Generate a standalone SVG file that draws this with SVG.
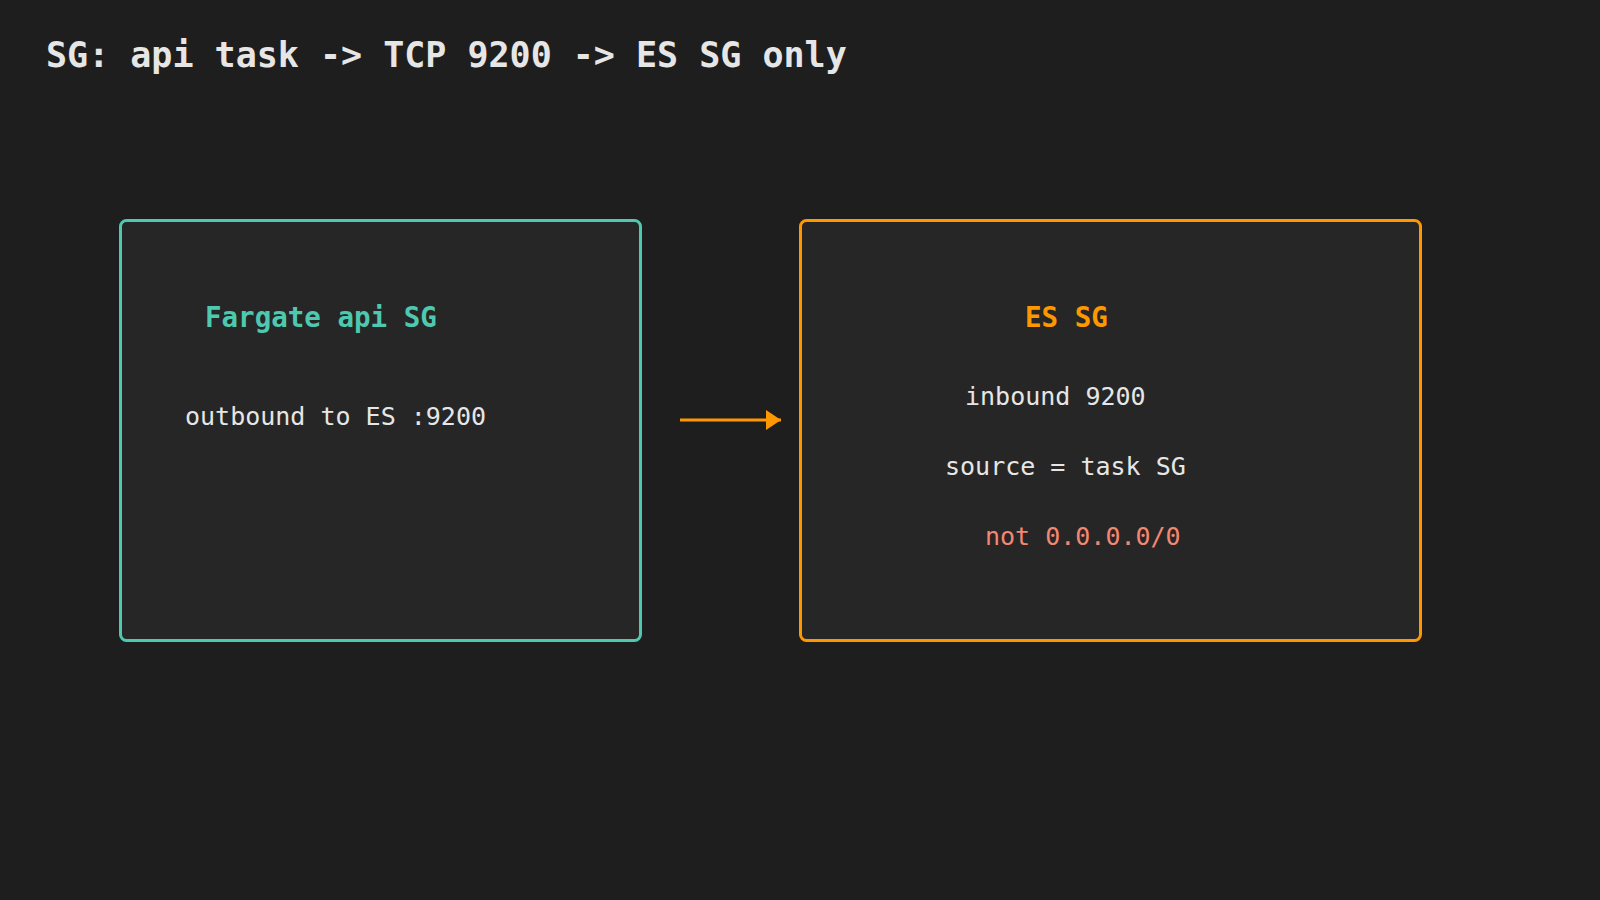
<svg xmlns="http://www.w3.org/2000/svg" width="1600" height="900" viewBox="0 0 1600 900">
  <style>
    .mono { font-family: "DejaVu Sans Mono", "Liberation Mono", monospace; }
    .title { font-size: 35px; font-weight: bold; fill: #e6e6e6; }
    .head { font-size: 27.5px; font-weight: bold; }
    .teal { fill: #4ec9b0; }
    .orange { fill: #ff9800; }
    .body { font-size: 25px; fill: #e6e6e6; }
    .warn { fill: #f48771; }
    .box { fill: #262626; stroke-width: 3; }
  </style>
  <defs>
    <marker id="arrow" markerWidth="15" markerHeight="20" refX="15" refY="10" orient="auto" markerUnits="userSpaceOnUse">
      <path d="M0,0 L15,10 L0,20 Z" fill="#ff9800"/>
    </marker>
  </defs>
  <rect x="0" y="0" width="1600" height="900" fill="#1e1e1e"/>
  <text class="mono title" x="46" y="67">SG: api task -&gt; TCP 9200 -&gt; ES SG only</text>

  <g id="fargate-sg">
    <rect class="box" x="120.5" y="220.5" width="520" height="420" rx="6" stroke="#4ec9b0"/>
    <text class="mono head teal" x="205" y="327">Fargate api SG</text>
    <text class="mono body" x="185" y="425">outbound to ES :9200</text>
  </g>

  <g id="es-sg">
    <rect class="box" x="800.5" y="220.5" width="620" height="420" rx="6" stroke="#ff9800"/>
    <text class="mono head orange" x="1025" y="327">ES SG</text>
    <text class="mono body" x="965" y="405">inbound 9200</text>
    <text class="mono body" x="945" y="475">source = task SG</text>
    <text class="mono body warn" x="985" y="545">not 0.0.0.0/0</text>
  </g>

  <g id="connectors">
    <line x1="680" y1="420" x2="781" y2="420" stroke="#ff9800" stroke-width="3" marker-end="url(#arrow)"/>
  </g>
</svg>
